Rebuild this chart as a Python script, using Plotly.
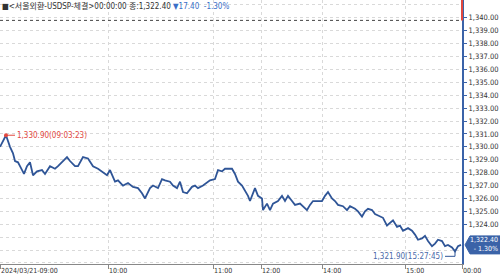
import plotly.graph_objects as go

# ---- data ----
seq = [0, 3, 6, 10, 13, 15, 18, 20, 24, 27, 30, 33, 37, 42, 45, 50, 55, 58, 62, 67, 70, 75, 78, 83, 88, 93, 98,
       103, 107, 110, 115, 118, 123, 128, 133, 138, 142, 145, 150, 153, 158, 162, 165, 170, 173, 177, 180, 183,
       187, 192, 195, 198, 203, 210, 215, 218, 222, 225, 227, 232, 235, 238, 242, 245, 248, 250, 253, 255, 258,
       262, 263, 267, 270, 273, 278, 282, 285, 288, 292, 295, 300, 303, 307, 310, 313, 318, 322, 325, 328, 332,
       335, 338, 343, 347, 350, 355, 358, 362, 365, 368, 372, 375, 378, 383, 387, 390, 393, 397, 400, 403, 408,
       412, 415, 418, 422, 425, 428, 432, 435, 438, 442, 445, 448, 452, 455, 458, 461]
price = [1330.0, 1330.5, 1330.9, 1330.0, 1329.5, 1328.9, 1328.8, 1328.5, 1327.9, 1328.5, 1328.8, 1327.8, 1328.1,
         1328.2, 1327.9, 1328.5, 1328.3, 1328.5, 1328.8, 1329.2, 1328.9, 1328.5, 1328.5, 1329.2, 1329.1, 1328.5,
         1328.3, 1328.0, 1327.8, 1328.2, 1327.3, 1327.4, 1327.0, 1327.2, 1326.9, 1326.8, 1326.4, 1326.0, 1326.8,
         1327.0, 1326.8, 1327.5, 1327.4, 1327.3, 1327.0, 1326.8, 1327.3, 1326.5, 1326.4, 1326.9, 1327.0, 1326.8,
         1327.0, 1327.4, 1327.5, 1328.2, 1328.1, 1328.3, 1328.3, 1328.3, 1327.9, 1327.3, 1327.0, 1326.6, 1326.2,
         1325.8, 1326.5, 1326.8, 1326.2, 1326.0, 1325.1, 1325.6, 1325.1, 1325.6, 1325.8, 1326.2, 1325.8, 1326.2,
         1325.8, 1325.5, 1325.6, 1325.4, 1325.1, 1325.5, 1325.8, 1325.8, 1325.8, 1326.2, 1326.5, 1326.0, 1325.8,
         1325.5, 1325.4, 1325.1, 1325.4, 1325.2, 1325.0, 1324.6, 1325.0, 1325.2, 1325.1, 1324.8, 1324.7, 1324.5,
         1323.9, 1324.1, 1324.3, 1323.8, 1323.9, 1323.5, 1323.7, 1323.5, 1323.2, 1322.8, 1322.9, 1323.1, 1322.7,
         1322.3, 1322.5, 1322.8, 1322.7, 1322.3, 1322.4, 1322.2, 1321.9, 1322.3, 1322.4]

tick_pos = [0, 108, 213, 261, 322, 405, 462]
tick_text = ["2024/03/21-09:00", "10:00", "11:00", "12:00", "14:00", "15:00", "00:00"]
y_ticks = list(range(1324, 1341))     # labelled price ticks (lower ones hidden by the last-value box)

prev_close = 1339.80
high_val, high_time = 1330.90, "09:03:23"
low_val, low_time = 1321.90, "15:27:45"
title_name = "<서울외환-USDSP-체결>"
title_time = "00:00:00"

# ---- styling ----
BLUE = "#2f5597"
AXBLUE = "#3b63a8"
RED = "#e2483f"
FONT = "Liberation Sans Narrow, DejaVu Sans Condensed, Noto Sans CJK KR, Arial"
X_MAX = 462
Y_MIN, Y_MAX = 1320.92, 1341.38
PX_PER_UNIT = 266 / (Y_MAX - Y_MIN)

last = price[-1]
chg = last - prev_close
pct = chg / prev_close * 100

fig = go.Figure()
fig.add_trace(go.Scatter(x=seq, y=price, mode="lines", line=dict(color=BLUE, width=1.8),
                         hoverinfo="skip", showlegend=False))

hi_i = price.index(high_val)
lo_i = price.index(low_val)

fig.add_trace(go.Scatter(x=[seq[hi_i]], y=[high_val], mode="markers",
                         marker=dict(color=RED, size=4), showlegend=False, hoverinfo="skip"))

last_py = (last - Y_MIN) / (Y_MAX - Y_MIN)

shapes = [
    dict(type="line", xref="x", yref="y", x0=0, x1=X_MAX, y0=prev_close, y1=prev_close,
         line=dict(color="#444444", width=1, dash="dot")),
    dict(type="line", xref="x", yref="y", x0=seq[hi_i], x1=seq[hi_i] + 9, y0=high_val, y1=high_val,
         line=dict(color=RED, width=1)),
    dict(type="path", xref="x", yref="y",
         path=f"M {seq[lo_i]-10},{low_val - 5/PX_PER_UNIT} L {seq[lo_i]},{low_val - 5/PX_PER_UNIT} L {seq[lo_i]},{low_val}",
         line=dict(color=BLUE, width=1)),
    dict(type="line", xref="paper", yref="paper", x0=1, x1=1,
         y0=(prev_close - Y_MIN) / (Y_MAX - Y_MIN), y1=1,
         line=dict(color=RED, width=2)),
    dict(type="path", xref="paper", yref="paper", xsizemode="pixel", ysizemode="pixel",
         xanchor=1, yanchor=last_py,
         path="M 3,0 L 8,9 L 38,9 L 38,-9 L 8,-9 Z",
         fillcolor=AXBLUE, line=dict(color=AXBLUE, width=1)),
]

annotations = [
    dict(xref="paper", yref="paper", x=0, y=1, xanchor="left", yanchor="top", showarrow=False,
         yshift=1, align="left",
         text=(f"■{title_name}{title_time} 종:{last:,.2f} "
               f"<span style='color:#3a6fc8'>▼{abs(chg):.2f}  {pct:.2f}%</span>"),
         font=dict(family=FONT, size=8, color="#333333")),
    dict(xref="x", yref="y", x=seq[hi_i] + 9, y=high_val, xanchor="left", yanchor="middle",
         showarrow=False, text=f"{high_val:,.2f}({high_time})",
         font=dict(family=FONT, size=8, color=RED)),
    dict(xref="x", yref="y", x=seq[lo_i] - 10, y=low_val - 5 / PX_PER_UNIT, xanchor="right", yanchor="middle",
         showarrow=False, text=f"{low_val:,.2f}({low_time})",
         font=dict(family=FONT, size=8, color="#4a6aa8")),
    dict(xref="paper", yref="paper", x=1, y=last_py, xanchor="left", yanchor="middle",
         xshift=7, showarrow=False, align="right", borderpad=0,
         text=f"{last:,.2f}<br>{pct:.2f}%".replace("-", "- "),
         font=dict(family=FONT, size=7, color="white")),
]

fig.update_layout(
    width=500, height=275,
    margin=dict(l=0, r=38, t=0, b=9),
    paper_bgcolor="white", plot_bgcolor="white",
    shapes=shapes, annotations=annotations,
    xaxis=dict(range=[0, X_MAX], tickvals=tick_pos, ticktext=tick_text,
               ticks="outside", ticklen=4, tickcolor="#888888",
               ticklabelposition="outside right",
               showline=True, linecolor="#888888", linewidth=1,
               showgrid=True, gridcolor="#d9d9d9", griddash="dot", gridwidth=1,
               zeroline=False, tickfont=dict(family=FONT, size=7, color="#333333")),
    yaxis=dict(range=[Y_MIN, Y_MAX], side="right", tickvals=y_ticks, tickformat=",.2f",
               ticks="outside", ticklen=3, tickcolor=AXBLUE,
               showline=True, linecolor=AXBLUE, linewidth=2,
               showgrid=True, gridcolor="#d9d9d9", griddash="dot", gridwidth=1,
               minor=dict(dtick=1, tick0=1321, showgrid=True, gridcolor="#d9d9d9", griddash="dot",
                          ticks=""),
               zeroline=False, tickfont=dict(family=FONT, size=7.5, color="#333333")),
)

fig.write_html("out.html")
